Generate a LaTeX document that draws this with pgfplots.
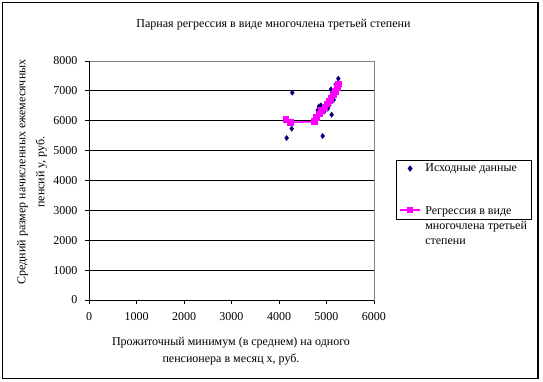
\documentclass[border=0pt]{standalone}
\usepackage{fontspec}
\setmainfont{Liberation Serif}
\usepackage{pgfplots}
\pgfplotsset{compat=1.18}
\definecolor{navyc}{RGB}{0,0,128}
\definecolor{magc}{RGB}{255,0,255}
\definecolor{grayc}{RGB}{128,128,128}
\begin{document}
\begin{tikzpicture}[x=1pt,y=1pt]
\useasboundingbox (0,0) rectangle (543,382);
\draw[line width=1.2pt] (2.5,379.5) rectangle (538,3.5);
\node[font=\fontsize{12}{14}\selectfont] at (273.5,357) {Парная регрессия в виде многочлена третьей степени};
\node[font=\fontsize{12}{19}\selectfont, rotate=90, align=center] at (32,210) {Средний размер начисленных ежемесячных\\пенсий y, руб.};
\node[font=\fontsize{12}{17}\selectfont, align=center] at (231,31) {Прожиточный минимум (в среднем) на одного\\пенсионера в месяц x, руб.};
\begin{axis}[
  at={(89pt,82pt)}, anchor=south west,
  scale only axis, width=285pt, height=239pt,
  xmin=0, xmax=6000, ymin=0, ymax=8000,
  xtick={0,1000,...,6000}, ytick={0,1000,...,8000},
  xtick pos=left, ytick pos=left,
  tick align=outside, major tick length=4pt,
  tick style={black, line width=0.8pt},
  axis line style={grayc, line width=0.8pt},
  ymajorgrids, grid style={black, line width=0.8pt},
  /pgf/number format/assume math mode=true,
  /pgf/number format/set thousands separator={},
  ticklabel style={font=\fontsize{12}{14}\selectfont},
  xticklabel style={yshift=-5pt},
  yticklabel style={xshift=-4pt},
  legend style={at={(1.077,0.586)}, anchor=north west, draw=black, line width=0.8pt,
    font=\fontsize{12}{15}\selectfont, inner xsep=3pt, inner ysep=2pt, row sep=28pt,
    column sep=3pt, nodes={inner sep=1.5pt}},
  legend cell align=left,
  clip=false,
]
\addplot[only marks, mark=diamond*, mark size=2.6pt, color=navyc,
  legend image code/.code={\draw[only marks] plot coordinates {(10pt,0pt)};}]
  table {
x y
4161 5423
4267 5735
4280 6940
4758 5958
4800 6050
4814 6349
4842 6483
4884 6516
4900 6420
4919 5490
4950 6300
4980 6450
5025 6405
5060 6520
5095 7052
5109 6203
5150 6700
5193 7219
5249 7409
};
\addlegendentry{Исходные данные}
\addplot[color=magc, line width=1.5pt, mark=square*, mark size=2.5pt,
  legend image code/.code={\draw[mark repeat=2,mark phase=2] plot coordinates {(0pt,0pt) (10pt,0pt) (20pt,0pt)};}]
  table {
x y
4147 6048
4246 5947
4744 5969
4793 6103
4850 6230
4898 6337
4968 6449
5018 6560
5060 6660
5095 6751
5150 6860
5193 6973
5230 7120
5249 7230
};
\addlegendentry{\begin{tabular}[t]{@{}l@{}}Регрессия в виде\\многочлена третьей\\степени\end{tabular}}
\draw[black, line width=0.8pt] (rel axis cs:0,1) -- (rel axis cs:0,0) -- (rel axis cs:1,0);
\end{axis}
\end{tikzpicture}
\end{document}
